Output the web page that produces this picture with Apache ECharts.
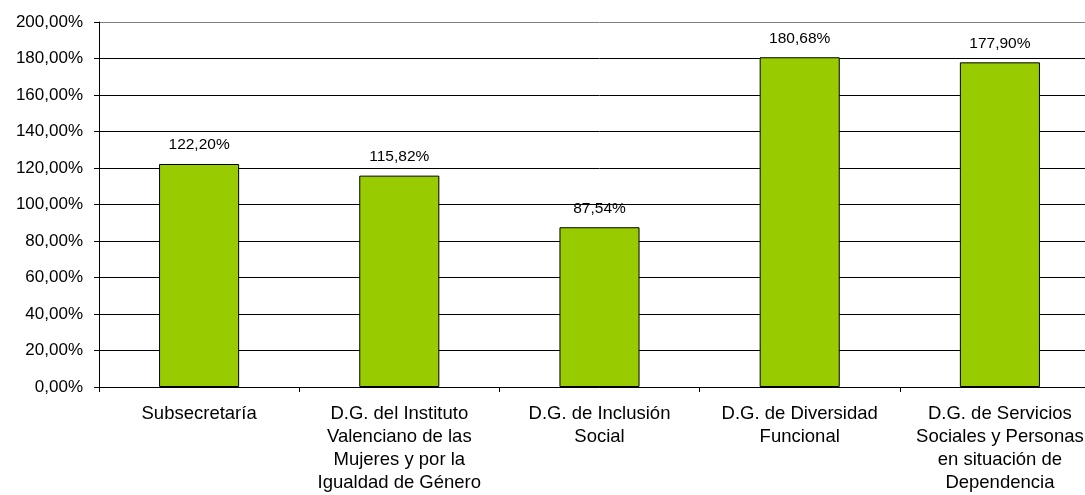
<!DOCTYPE html>
<html>
<head>
<meta charset="utf-8">
<script src="https://cdn.jsdelivr.net/npm/echarts@6/dist/echarts.min.js"></script>
<style>
  html, body { margin: 0; padding: 0; background: #fff; overflow: hidden; width: 1085px; height: 495px; }
  #chart { width: 1110px; height: 495px; }
</style>
</head>
<body>
<div id="chart"></div>
<script>
var categories = [
    'Subsecretaría',
    'D.G. del Instituto\nValenciano de las\nMujeres y por la\nIgualdad de Género',
    'D.G. de Inclusión\nSocial',
    'D.G. de Diversidad\nFuncional',
    'D.G. de Servicios\nSociales y Personas\nen situación de\nDependencia'
];
var values = [122.20, 115.82, 87.54, 180.68, 177.90];

function pct(v) {
    return v.toFixed(2).replace('.', ',') + '%';
}

// last grid line (top) is drawn lighter, as in the original
var gridColors = ['#000', '#000', '#000', '#000', '#000', '#000', '#000', '#000', '#000', '#000', '#808080'];

var myChart = echarts.init(document.getElementById('chart'));
var option = {
    animation: false,
    grid: { left: 99, right: 10, top: 22, bottom: 108, containLabel: false },
    xAxis: {
        type: 'category',
        data: categories,
        axisLine: { lineStyle: { color: '#000', width: 1 } },
        axisTick: { show: true, length: 5, lineStyle: { color: '#000' } },
        axisLabel: {
            color: '#000', fontSize: 18.5, fontFamily: 'Liberation Sans, Arial',
            lineHeight: 23, margin: 15, interval: 0
        }
    },
    yAxis: {
        type: 'value',
        min: 0, max: 200, interval: 20,
        axisLine: { show: true, lineStyle: { color: '#000', width: 1 } },
        axisTick: { show: true, inside: false, length: 5, lineStyle: { color: '#000' } },
        splitLine: { show: true, lineStyle: { color: gridColors, width: 1 } },
        axisLabel: {
            color: '#000', fontSize: 17, fontFamily: 'Liberation Sans, Arial',
            margin: 16, formatter: function (v) { return pct(v); }
        }
    },
    series: [{
        type: 'bar',
        data: values,
        barWidth: '40%',
        itemStyle: { color: '#99CC00', borderColor: '#000', borderWidth: 1 },
        label: {
            show: true, position: 'top', distance: 11,
            color: '#000', fontSize: 15.5, fontFamily: 'Liberation Sans, Arial',
            formatter: function (p) { return pct(p.value); }
        }
    }]
};
myChart.setOption(option);
</script>
</body>
</html>
